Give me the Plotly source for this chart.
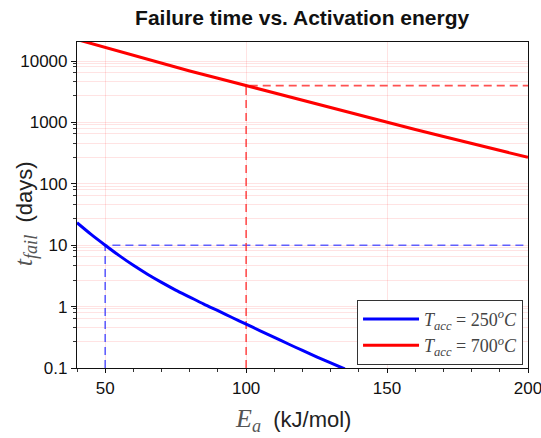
import plotly.graph_objects as go

# Activation energy grid (kJ/mol) and read-off failure times (days)
E_250 = [40, 45, 50, 55, 60, 65, 70, 75, 80, 85, 90, 95, 100, 105, 110, 115, 120, 125, 130, 135]
t_250 = [23.2, 15.0, 10.0, 6.76, 4.70, 3.37, 2.48, 1.86, 1.43, 1.10, 0.857, 0.665, 0.518,
         0.404, 0.315, 0.246, 0.193, 0.152, 0.121, 0.0964]

E_700 = [40, 50, 60, 70, 80, 90, 100, 110, 120, 130, 140, 150, 160, 170, 180, 190, 200]
t_700 = [22400, 16600, 12300, 9200, 6900, 5250, 3980, 3020, 2290, 1740, 1320, 1000, 767, 589, 452, 347, 270]

# Reference (dashed) read-off points
ref_E_250, ref_t_250 = 50, 10
ref_E_700, ref_t_700 = 100, 3980
E_max = 200
t_min = 0.1

y_ticks = [0.1, 1, 10, 100, 1000, 10000]
y_ticktext = ["0.1", "1", "10", "100", "1000", "10000"]
x_ticks = [50, 100, 150, 200]
minor_factors = [0.27, 0.46, 0.65, 0.81, 0.92]
minor_y = [d * f for d in [1, 10, 100, 1000, 10000, 100000] for f in minor_factors]

SERIF = "Liberation Serif"
SANS = "Liberation Sans, Arial"

fig = go.Figure()

# dashed guide lines
fig.add_trace(go.Scatter(
    x=[ref_E_250, ref_E_250, E_max], y=[t_min, ref_t_250, ref_t_250],
    mode="lines", line=dict(color="rgba(70,70,255,0.85)", width=1.6, dash="8px,5px"),
    showlegend=False, hoverinfo="skip"))
fig.add_trace(go.Scatter(
    x=[ref_E_700, ref_E_700, E_max], y=[t_min, ref_t_700, ref_t_700],
    mode="lines", line=dict(color="rgba(255,50,50,0.85)", width=1.6, dash="8px,5px"),
    showlegend=False, hoverinfo="skip"))

fig.add_trace(go.Scatter(
    x=E_250, y=t_250, mode="lines", line=dict(color="#0000ff", width=3, shape="spline", smoothing=0.8),
    name="<i>T</i><sub><i>acc</i></sub> = 250<sup><i>o</i></sup><i>C</i>"))
fig.add_trace(go.Scatter(
    x=E_700, y=t_700, mode="lines", line=dict(color="#ff0000", width=3),
    name="<i>T</i><sub><i>acc</i></sub> = 700<sup><i>o</i></sup><i>C</i>"))

grid_col = "rgba(255,0,0,0.11)"

fig.update_layout(
    width=541, height=438,
    margin=dict(l=77, r=13, t=42, b=70, autoexpand=False),
    paper_bgcolor="white", plot_bgcolor="white",
    font=dict(family=SANS, size=17, color="#111"),
    title=dict(text="<b>Failure time vs. Activation energy</b>", x=0.5585, xanchor="center",
               y=0.959, yref="container", yanchor="middle", font=dict(size=21, color="#111", family=SANS)),
    legend=dict(x=0.989, y=0.01, xanchor="right", yanchor="bottom",
                bgcolor="white", bordercolor="#333", borderwidth=1,
                font=dict(size=18, color="#444", family=SERIF),
                itemwidth=56, tracegroupgap=0),
    showlegend=True,
    annotations=[
        dict(text=f"<span style='font-family:{SERIF};color:#555;font-size:26px'><i>t</i><sub><i>fail</i></sub></span>  (days)",
             textangle=-90, xref="paper", yref="paper", x=-0.115, y=0.472,
             xanchor="center", yanchor="middle", showarrow=False,
             font=dict(size=22, family=SANS, color="#222")),
        dict(text=f"<span style='font-family:{SERIF};color:#555;font-size:26px'><i>E</i><sub><i>a</i></sub></span>  (kJ/mol)",
             xref="paper", yref="paper", x=0.479, y=-0.158,
             xanchor="center", yanchor="middle", showarrow=False,
             font=dict(size=22, family=SANS, color="#222")),
    ],
)

fig.update_xaxes(
    range=[40, 200], tickvals=x_ticks, ticks="outside", ticklen=4, tickcolor="#111",
    showline=True, linecolor="#111", linewidth=1.2, mirror=True,
    showgrid=True, gridcolor=grid_col, gridwidth=1,
    minor=dict(dtick=10, tick0=0, ticks="outside", ticklen=3, tickcolor="#333", showgrid=False),
    tickfont=dict(size=17, family=SANS, color="#111"), ticklabeloverflow="allow",
    zeroline=False, automargin=False,
)
fig.update_yaxes(
    type="log", range=[-1, 4.31], tickvals=y_ticks, ticktext=y_ticktext,
    ticks="outside", ticklen=5, tickcolor="#111",
    showline=True, linecolor="#111", linewidth=1.2, mirror=True,
    showgrid=True, gridcolor=grid_col, gridwidth=1,
    minor=dict(tickvals=minor_y, ticks="outside", ticklen=3, tickcolor="#333",
               showgrid=True, gridcolor=grid_col, gridwidth=1),
    tickfont=dict(size=17, family=SANS, color="#111"), ticklabeloverflow="allow",
    zeroline=False, automargin=False,
)

fig.write_html("out.html", config={"displayModeBar": False},
               post_script="document.body.style.margin='0';document.body.style.padding='0';")
